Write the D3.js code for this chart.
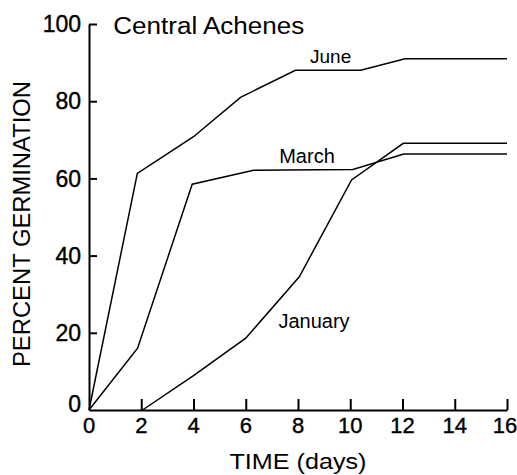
<!DOCTYPE html>
<html>
<head>
<meta charset="utf-8">
<script src="https://cdn.jsdelivr.net/npm/d3@7"></script>
<style>
  html, body { margin: 0; padding: 0; background: #fff; }
  svg { display: block; }
  text { font-family: "Liberation Sans", Arial, Helvetica, sans-serif; fill: #000; }
</style>
</head>
<body>
<svg id="chart" width="517" height="475"></svg>
<script>
// ---- data ----
const xTicks = [2, 4, 6, 8, 10, 12, 14, 16];
const xTickLabels = ["0", "2", "4", "6", "8", "10", "12", "14", "16"];
const yTicks = [0, 20, 40, 60, 80, 100];
const seriesNames = ["June", "March", "January"];
const juneDays = [0, 1.85, 4, 5.8, 7.9, 10.4, 12.1, 16];
const juneGerm = [0, 61.3, 70.8, 81, 88, 88, 91, 91];
const marchDays = [0, 1.86, 3.95, 6.3, 10.1, 12.05, 16];
const marchGerm = [0, 16, 58.5, 62.1, 62.3, 66.3, 66.3];
const janDays = [2.05, 4, 6, 8.05, 10.05, 12.03, 16];
const janGerm = [0, 8.9, 18.6, 34.5, 59.6, 69.1, 69.1];
const titleText = "Central Achenes";
const xTitle = "TIME (days)";
const yTitle = "PERCENT GERMINATION";

const W = 517, H = 475;
const svg = d3.select("#chart");
const x = d3.scaleLinear().domain([0, 16]).range([89, 507]);
const y = d3.scaleLinear().domain([0, 100]).range([410, 24]);

// axes
const xAxis = d3.axisBottom(x).tickValues(xTicks).tickSizeInner(-11).tickSizeOuter(0).tickFormat("");
const gx = svg.append("g").attr("transform", `translate(0,${y(0)})`).call(xAxis);
const yAxis = d3.axisLeft(y).tickValues(yTicks).tickSizeInner(-8).tickSizeOuter(0).tickFormat("");
const gy = svg.append("g").attr("transform", `translate(${x(0)},0)`).call(yAxis);
[gx, gy].forEach(g => {
  g.select(".domain").attr("stroke", "#000").attr("stroke-width", 2);
  g.selectAll(".tick line").attr("stroke", "#000").attr("stroke-width", 2);
});
gy.selectAll(".tick").filter(d => d === 0).select("line").remove();

// tick labels
svg.append("g").selectAll("text").data(xTickLabels).join("text")
  .attr("x", d => Math.min(x(+d), W - 12))
  .attr("y", 433)
  .attr("text-anchor", "middle")
  .attr("font-size", 22)
  .attr("stroke", "#000").attr("stroke-width", 0.4)
  .text(d => d);

svg.append("g").selectAll("text").data(yTicks).join("text")
  .attr("x", 81)
  .attr("y", d => y(d) + (d === 0 ? -6 : 0))
  .attr("dy", "0.36em")
  .attr("text-anchor", "end")
  .attr("font-size", 23)
  .attr("stroke", "#000").attr("stroke-width", 0.4)
  .text(d => d);

// series lines
const line = d3.line().x(d => x(d[0])).y(d => y(d[1]));
const series = [
  d3.zip(juneDays, juneGerm),
  d3.zip(marchDays, marchGerm),
  d3.zip(janDays, janGerm)
];
svg.append("g").selectAll("path").data(series).join("path")
  .attr("d", line)
  .attr("fill", "none")
  .attr("stroke", "#000")
  .attr("stroke-width", 1.5)
  .attr("stroke-linejoin", "miter");

// series labels (anchored in data coordinates)
const labelPos = [[8.46, 90, 19], [7.28, 64.1, 20], [7.25, 21.2, 20]];
svg.append("g").selectAll("text").data(seriesNames).join("text")
  .attr("x", (d, i) => x(labelPos[i][0]))
  .attr("y", (d, i) => y(labelPos[i][1]))
  .attr("font-size", (d, i) => labelPos[i][2])
  .text(d => d);

// title
svg.append("text")
  .attr("x", x(0.93)).attr("y", y(97.3))
  .attr("font-size", 23)
  .attr("textLength", 191).attr("lengthAdjust", "spacingAndGlyphs")
  .text(titleText);

// axis titles
svg.append("text")
  .attr("x", 298).attr("y", 469)
  .attr("text-anchor", "middle")
  .attr("font-size", 22)
  .attr("textLength", 137).attr("lengthAdjust", "spacingAndGlyphs")
  .text(xTitle);

svg.append("text")
  .attr("transform", "translate(30,224) rotate(-90)")
  .attr("text-anchor", "middle")
  .attr("font-size", 23.5)
  .attr("textLength", 286).attr("lengthAdjust", "spacingAndGlyphs")
  .text(yTitle);
</script>
</body>
</html>
